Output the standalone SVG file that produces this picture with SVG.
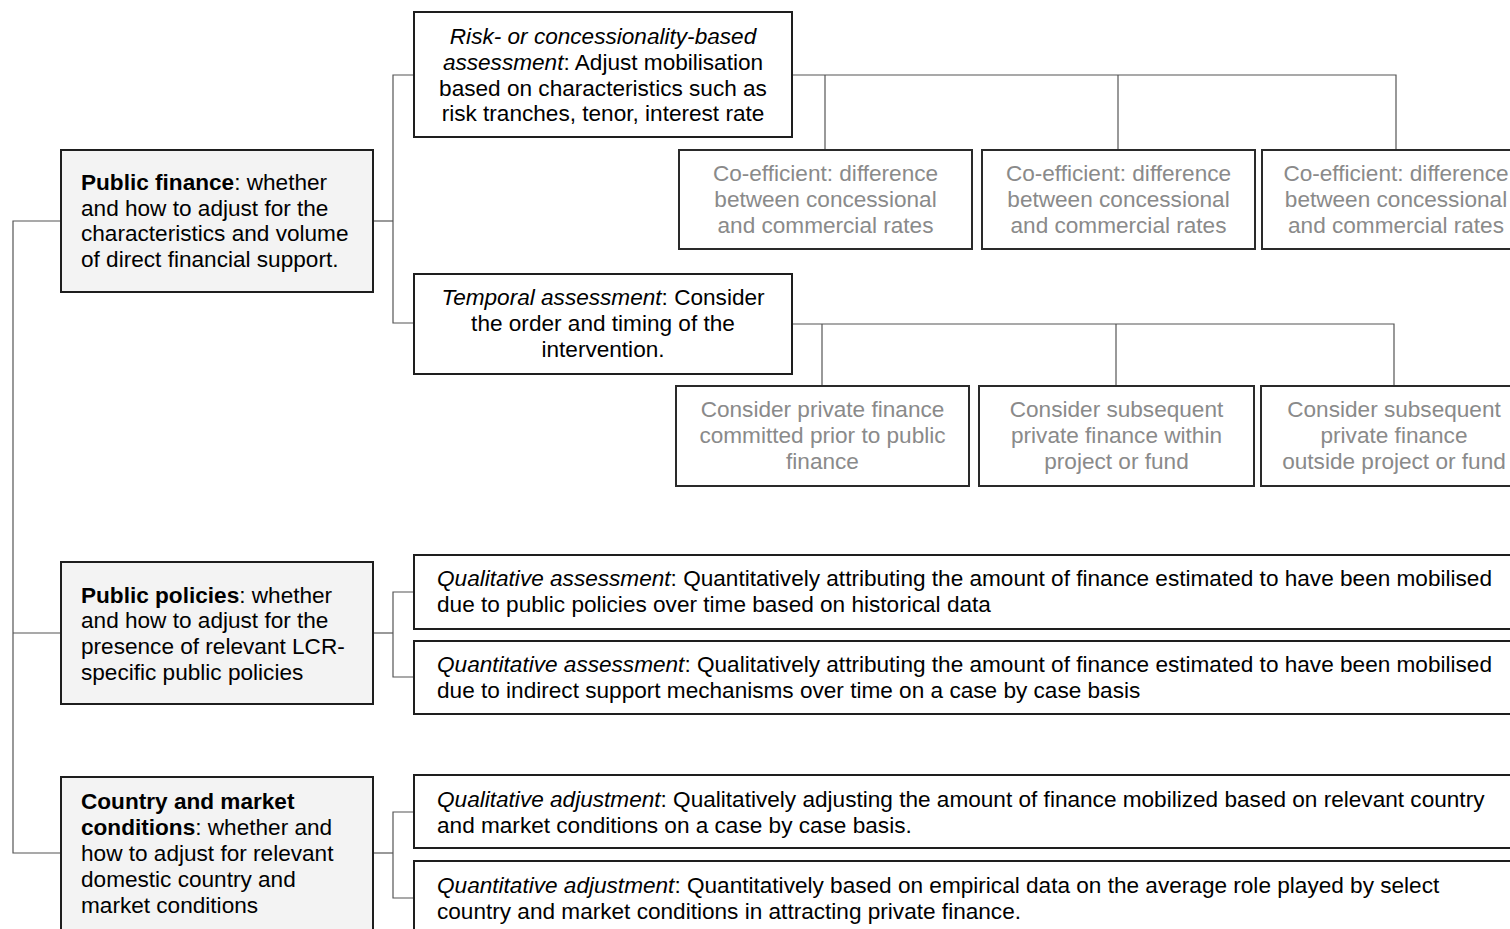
<svg xmlns="http://www.w3.org/2000/svg" width="1510" height="929" viewBox="0 0 1510 929">
<style>
.box{fill:#ffffff;stroke:#1e1e1e;stroke-width:2}
.main{fill:#f3f3f3;stroke:#1e1e1e;stroke-width:2}
.sub{fill:#ffffff;stroke:#2a2a2a;stroke-width:2}
.con{fill:none;stroke:#555555;stroke-width:1.2}
text{font-family:"Liberation Sans",Arial,sans-serif;font-size:22.6px;fill:#000000}
.c{text-anchor:middle}
.g{fill:#8a8a8a}
.i{font-style:italic}
.b{font-weight:bold}
</style>
<rect width="1510" height="929" fill="#ffffff"/>
<g id="connectors">
<polyline class="con" points="61,221 13,221 13,853 61,853"/>
<line class="con" x1="13" y1="633" x2="61" y2="633"/>
<line class="con" x1="373" y1="221" x2="393" y2="221"/>
<polyline class="con" points="414,75 393,75 393,323 414,323"/>
<polyline class="con" points="792,75 1396,75 1396,150"/>
<line class="con" x1="825" y1="75" x2="825" y2="150"/>
<line class="con" x1="1118" y1="75" x2="1118" y2="150"/>
<polyline class="con" points="792,324 1394,324 1394,386"/>
<line class="con" x1="822" y1="324" x2="822" y2="386"/>
<line class="con" x1="1116" y1="324" x2="1116" y2="386"/>
<line class="con" x1="373" y1="633" x2="393" y2="633"/>
<polyline class="con" points="414,592 393,592 393,677 414,677"/>
<line class="con" x1="373" y1="853" x2="393" y2="853"/>
<polyline class="con" points="414,812 393,812 393,898 414,898"/>
</g>
<g id="public-finance">
<rect class="main" x="61" y="150" width="312" height="142"/>
<text x="81" y="190"><tspan class="b">Public finance</tspan>: whether</text>
<text x="81" y="215.5">and how to adjust for the</text>
<text x="81" y="241">characteristics and volume</text>
<text x="81" y="266.5">of direct financial support.</text>
</g>
<g id="risk-assessment">
<rect class="box" x="414" y="12" width="378" height="125"/>
<text class="c i" x="603" y="44">Risk- or concessionality-based</text>
<text class="c" x="603" y="70"><tspan class="i">assessment</tspan>: Adjust mobilisation</text>
<text class="c" x="603" y="95.5">based on characteristics such as</text>
<text class="c" x="603" y="121">risk tranches, tenor, interest rate</text>
</g>
<g id="coef-1">
<rect class="sub" x="679" y="150" width="293" height="99"/>
<text class="c g" x="825.5" y="181">Co-efficient: difference</text>
<text class="c g" x="825.5" y="207">between concessional</text>
<text class="c g" x="825.5" y="233">and commercial rates</text>
</g>
<g id="coef-2">
<rect class="sub" x="982" y="150" width="273" height="99"/>
<text class="c g" x="1118.5" y="181">Co-efficient: difference</text>
<text class="c g" x="1118.5" y="207">between concessional</text>
<text class="c g" x="1118.5" y="233">and commercial rates</text>
</g>
<g id="coef-3">
<rect class="sub" x="1262" y="150" width="270" height="99"/>
<text class="c g" x="1396" y="181">Co-efficient: difference</text>
<text class="c g" x="1396" y="207">between concessional</text>
<text class="c g" x="1396" y="233">and commercial rates</text>
</g>
<g id="temporal-assessment">
<rect class="box" x="414" y="274" width="378" height="100"/>
<text class="c" x="603" y="305"><tspan class="i">Temporal assessment</tspan>: Consider</text>
<text class="c" x="603" y="331">the order and timing of the</text>
<text class="c" x="603" y="357">intervention.</text>
</g>
<g id="temporal-1">
<rect class="sub" x="676" y="386" width="293" height="100"/>
<text class="c g" x="822.5" y="417">Consider private finance</text>
<text class="c g" x="822.5" y="443">committed prior to public</text>
<text class="c g" x="822.5" y="469">finance</text>
</g>
<g id="temporal-2">
<rect class="sub" x="979" y="386" width="275" height="100"/>
<text class="c g" x="1116.5" y="417">Consider subsequent</text>
<text class="c g" x="1116.5" y="443">private finance within</text>
<text class="c g" x="1116.5" y="469">project or fund</text>
</g>
<g id="temporal-3">
<rect class="sub" x="1261" y="386" width="270" height="100"/>
<text class="c g" x="1394" y="417">Consider subsequent</text>
<text class="c g" x="1394" y="443">private finance</text>
<text class="c g" x="1394" y="469">outside project or fund</text>
</g>
<g id="public-policies">
<rect class="main" x="61" y="562" width="312" height="142"/>
<text x="81" y="602.5"><tspan class="b">Public policies</tspan>: whether</text>
<text x="81" y="628">and how to adjust for the</text>
<text x="81" y="654">presence of relevant LCR-</text>
<text x="81" y="679.5">specific public policies</text>
</g>
<g id="qualitative-assessment">
<rect class="box" x="414" y="555" width="1120" height="74"/>
<text x="437" y="586"><tspan class="i">Qualitative assessment</tspan>: Quantitatively attributing the amount of finance estimated to have been mobilised</text>
<text x="437" y="612">due to public policies over time based on historical data</text>
</g>
<g id="quantitative-assessment">
<rect class="box" x="414" y="641" width="1120" height="73"/>
<text x="437" y="672"><tspan class="i">Quantitative assessment</tspan>: Qualitatively attributing the amount of finance estimated to have been mobilised</text>
<text x="437" y="698">due to indirect support mechanisms over time on a case by case basis</text>
</g>
<g id="country-market">
<rect class="main" x="61" y="777" width="312" height="170"/>
<text x="81" y="809"><tspan class="b">Country and market</tspan></text>
<text x="81" y="835"><tspan class="b">conditions</tspan>: whether and</text>
<text x="81" y="861">how to adjust for relevant</text>
<text x="81" y="887">domestic country and</text>
<text x="81" y="912.5">market conditions</text>
</g>
<g id="qualitative-adjustment">
<rect class="box" x="414" y="775" width="1120" height="73"/>
<text x="437" y="807"><tspan class="i">Qualitative adjustment</tspan>: Qualitatively adjusting the amount of finance mobilized based on relevant country</text>
<text x="437" y="833">and market conditions on a case by case basis.</text>
</g>
<g id="quantitative-adjustment">
<rect class="box" x="414" y="861" width="1120" height="90"/>
<text x="437" y="893"><tspan class="i">Quantitative adjustment</tspan>: Quantitatively based on empirical data on the average role played by select</text>
<text x="437" y="919">country and market conditions in attracting private finance.</text>
</g>
</svg>
